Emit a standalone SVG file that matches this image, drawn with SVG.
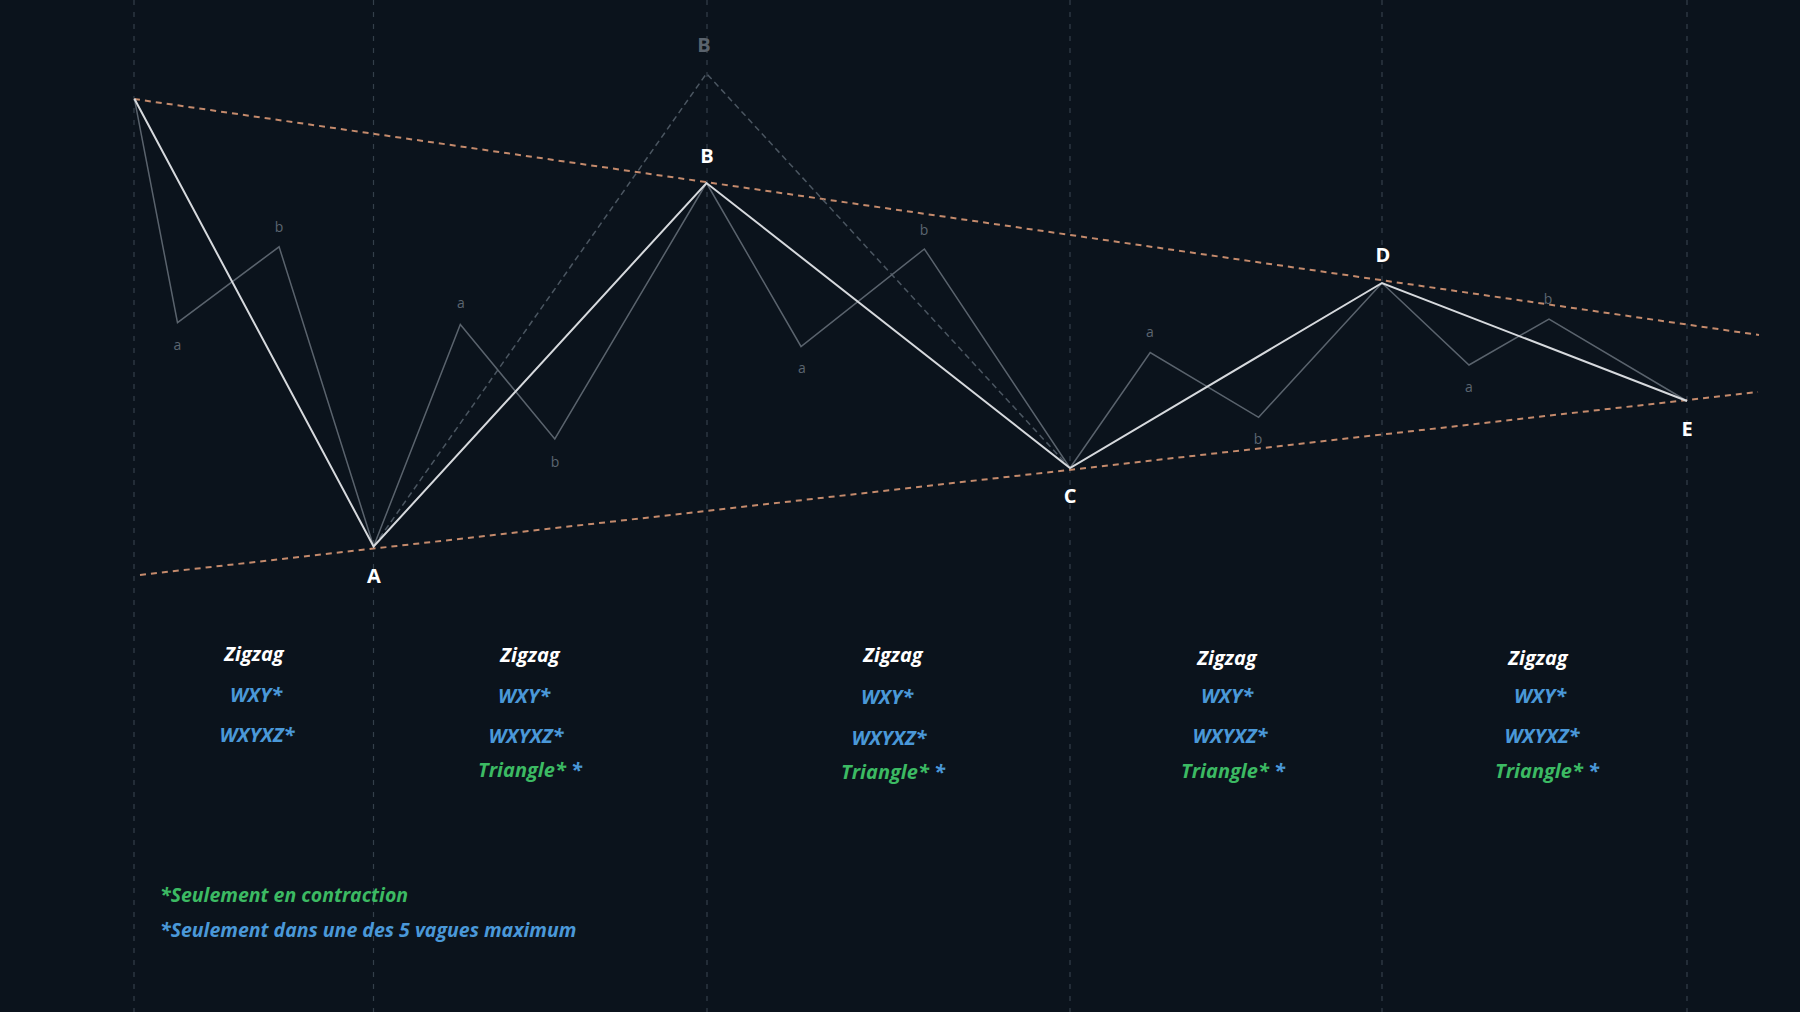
<svg xmlns="http://www.w3.org/2000/svg" width="1800" height="1012" viewBox="0 0 1800 1012">
<style>
.grid{stroke:#343f4a;stroke-width:1.2;stroke-dasharray:5 7;fill:none}
.trend{stroke:#c48a6c;stroke-width:2;stroke-dasharray:6 5;fill:none}
.ghost{stroke:#4b5661;stroke-width:1.5;stroke-dasharray:6 4;fill:none}
.sub{stroke:#5a636d;stroke-width:1.5;fill:none;stroke-linejoin:miter}
.main{stroke:#d6d9dd;stroke-width:2;fill:none;stroke-linejoin:miter}
.pt{font-family:"Open Sans","Liberation Sans",sans-serif;font-weight:bold;font-size:20px;fill:#ffffff;text-anchor:middle}
.sm{font-family:"Open Sans","Liberation Sans",sans-serif;font-size:14px;fill:#5b6570;text-anchor:middle}
.t{font-family:"Open Sans","Liberation Sans",sans-serif;font-weight:bold;font-style:italic;font-size:20px;text-anchor:middle}
.w{fill:#ffffff}
.b{fill:#4a98d8}
.g{fill:#3cba63}
.fn{font-family:"Open Sans","Liberation Sans",sans-serif;font-weight:bold;font-style:italic;font-size:19.5px}
</style>
<rect width="1800" height="1012" fill="#0b131c"/>
<g id="grid">
<line class="grid" x1="134" y1="0" x2="134" y2="1012"/>
<line class="grid" x1="373.5" y1="0" x2="373.5" y2="1012"/>
<line class="grid" x1="707" y1="0" x2="707" y2="1012"/>
<line class="grid" x1="1070" y1="0" x2="1070" y2="1012"/>
<line class="grid" x1="1382" y1="0" x2="1382" y2="1012"/>
<line class="grid" x1="1687" y1="0" x2="1687" y2="1012"/>
</g>
<g id="connectors">
<line class="trend" x1="134" y1="99" x2="1759" y2="335"/>
<line class="trend" x1="140" y1="575" x2="1758" y2="392"/>
<polyline class="ghost" points="373.6,546.5 706.5,73.5 1070,468"/>
<polyline class="sub" points="134.4,98.7 177.5,322.6 279.1,246.8 373.6,546.5"/>
<polyline class="sub" points="373.6,546.5 460.3,324.5 554.8,439 706.5,183"/>
<polyline class="sub" points="706.5,183 801,346.5 924.4,249 1070,468"/>
<polyline class="sub" points="1070,468 1150.2,352.5 1258.6,417.3 1382,283"/>
<polyline class="sub" points="1382,283 1469,365 1549,319 1687,401"/>
<polyline class="main" points="134.4,98.7 373.6,546.5 706.5,183 1070,468 1382,283 1687,401"/>
</g>
<g id="wave-labels">
<text class="sm" x="279" y="232">b</text>
<text class="sm" x="177.5" y="350">a</text>
<text class="sm" x="461" y="308">a</text>
<text class="sm" x="555" y="467">b</text>
<text class="sm" x="802" y="373">a</text>
<text class="sm" x="924" y="235">b</text>
<text class="sm" x="1150" y="337">a</text>
<text class="sm" x="1258" y="444">b</text>
<text class="sm" x="1469" y="392">a</text>
<text class="sm" x="1548" y="304">b</text>
</g>
<g id="node-A"><text class="pt" x="374" y="583">A</text></g>
<g id="node-B"><text class="pt" x="707" y="163">B</text></g>
<g id="node-B-alt"><text class="pt" x="704" y="52" style="fill:#5a636d">B</text></g>
<g id="node-C"><text class="pt" x="1070" y="503">C</text></g>
<g id="node-D"><text class="pt" x="1383" y="262">D</text></g>
<g id="node-E"><text class="pt" x="1687" y="436">E</text></g>
<g id="col-1">
<text class="t w" x="254" y="661">Zigzag</text>
<text class="t b" x="256" y="702">WXY*</text>
<text class="t b" x="257" y="742">WXYXZ*</text>
</g>
<g id="col-2">
<text class="t w" x="530" y="662">Zigzag</text>
<text class="t b" x="524" y="703">WXY*</text>
<text class="t b" x="526" y="743">WXYXZ*</text>
<text class="t" x="530" y="777"><tspan class="g">Triangle*</tspan><tspan class="b"> *</tspan></text>
</g>
<g id="col-3">
<text class="t w" x="893" y="662">Zigzag</text>
<text class="t b" x="887" y="704">WXY*</text>
<text class="t b" x="889" y="745">WXYXZ*</text>
<text class="t" x="893" y="779"><tspan class="g">Triangle*</tspan><tspan class="b"> *</tspan></text>
</g>
<g id="col-4">
<text class="t w" x="1227" y="665">Zigzag</text>
<text class="t b" x="1227" y="703">WXY*</text>
<text class="t b" x="1230" y="743">WXYXZ*</text>
<text class="t" x="1233" y="778"><tspan class="g">Triangle*</tspan><tspan class="b"> *</tspan></text>
</g>
<g id="col-5">
<text class="t w" x="1538" y="665">Zigzag</text>
<text class="t b" x="1540" y="703">WXY*</text>
<text class="t b" x="1542" y="743">WXYXZ*</text>
<text class="t" x="1547" y="778"><tspan class="g">Triangle*</tspan><tspan class="b"> *</tspan></text>
</g>
<g id="footnotes">
<text class="fn g" x="160" y="902">*Seulement en contraction</text>
<text class="fn b" x="160" y="937">*Seulement dans une des 5 vagues maximum</text>
</g>
</svg>
